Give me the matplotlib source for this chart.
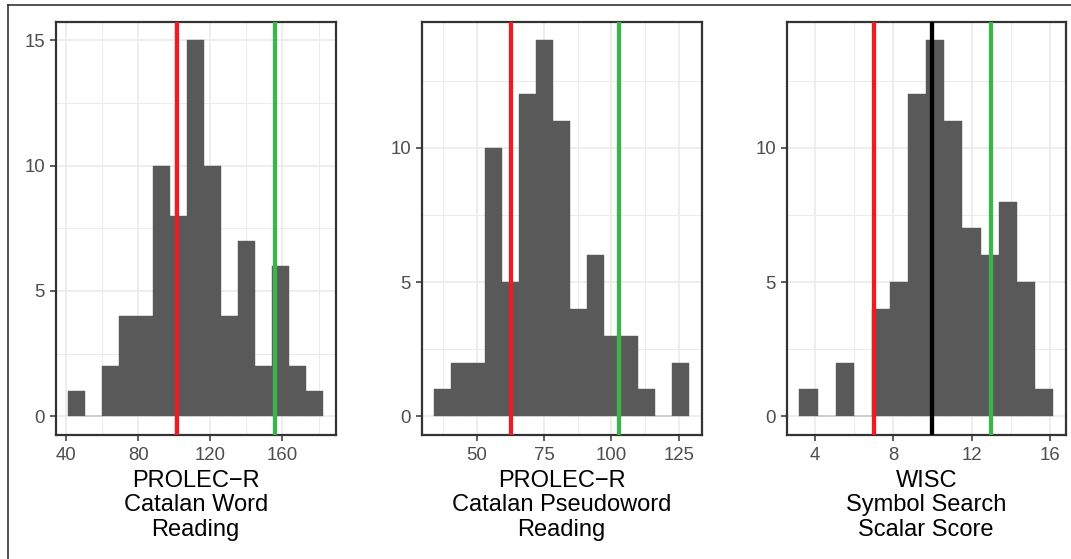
import numpy as np
import matplotlib
matplotlib.use("Agg")
import matplotlib.pyplot as plt
from matplotlib.lines import Line2D

plt.rcParams['font.family'] = ['Liberation Sans', 'DejaVu Sans']

# histogram bins (edges + counts per bin)
word_edges = [41.3, 50.71, 60.12, 69.53, 78.94, 88.35, 97.76, 107.17, 116.58,
              125.99, 135.4, 144.81, 154.22, 163.63, 173.04, 182.45]
word_counts = [1, 0, 2, 4, 4, 10, 8, 15, 10, 4, 7, 2, 6, 2, 1]
word_lines = [101.5, 156.0]

pseudo_edges = [34.2, 40.51, 46.82, 53.13, 59.44, 65.75, 72.06, 78.37, 84.68,
                90.99, 97.3, 103.61, 109.92, 116.23, 122.54, 128.85]
pseudo_counts = [1, 2, 2, 10, 5, 12, 14, 11, 4, 6, 3, 3, 1, 0, 2]
pseudo_lines = [62.6, 102.8]

wisc_edges = [3.19, 4.12, 5.04, 5.97, 6.90, 7.83, 8.75, 9.68, 10.61, 11.53,
              12.46, 13.39, 14.31, 15.24, 16.17]
wisc_counts = [1, 0, 2, 0, 4, 5, 12, 14, 11, 7, 6, 8, 5, 1]
wisc_lines = [7.0, 10.0, 13.0]

labels = ["PROLEC\u2212R\nCatalan Word\nReading",
          "PROLEC\u2212R\nCatalan Pseudoword\nReading",
          "WISC\nSymbol Search\nScalar Score"]

xticks = [[40, 80, 120, 160], [50, 75, 100, 125], [4, 8, 12, 16]]
xminor = [[60, 100, 140, 180], [37.5, 62.5, 87.5, 112.5], [6, 10, 14]]
yticks = [[0, 5, 10, 15], [0, 5, 10], [0, 5, 10]]
yminor = [[2.5, 7.5, 12.5], [2.5, 7.5, 12.5], [2.5, 7.5, 12.5]]

RED = '#EC1C24'
GREEN = '#3CB44A'

W, H = 1071, 559
fig = plt.figure(figsize=(W / 100, H / 100), dpi=100)

lefts = [55.7, 421.7, 786.7]
widths = [280, 280, 279]
top_px, bot_px = 21.7, 435

data = [(word_edges, word_counts, word_lines, [RED, GREEN]),
        (pseudo_edges, pseudo_counts, pseudo_lines, [RED, GREEN]),
        (wisc_edges, wisc_counts, wisc_lines, [RED, 'black', GREEN])]

for i, (edges, counts, vlines, cols) in enumerate(data):
    ax = fig.add_axes([lefts[i] / W, 1 - bot_px / H, widths[i] / W, (bot_px - top_px) / H])
    e = np.array(edges)
    ax.bar(e[:-1], counts, width=np.diff(e), align='edge', color='#595959',
           edgecolor='#595959', linewidth=0.3, zorder=2)
    for v, c in zip(vlines, cols):
        ax.axvline(v, color=c, lw=3.1, zorder=3)

    # ggplot style 5% expansion
    span = e[-1] - e[0]
    ax.set_xlim(e[0] - 0.05 * span, e[-1] + 0.05 * span)
    ymax = max(counts)
    ax.set_ylim(-0.05 * ymax, ymax * 1.05)

    ax.set_xticks(xticks[i])
    ax.set_xticks(xminor[i], minor=True)
    ax.set_yticks(yticks[i])
    ax.set_yticks(yminor[i], minor=True)
    ax.grid(which='major', color='#EBEBEB', lw=1.2, zorder=0)
    ax.grid(which='minor', color='#EBEBEB', lw=0.7, zorder=0)
    ax.set_axisbelow(True)
    ax.tick_params(which='minor', length=0)
    ax.tick_params(which='major', length=4.2, width=1.1, color='#333333',
                   labelcolor='#4D4D4D', labelsize=13.4)
    ax.tick_params(axis='x', pad=4.5)
    ax.tick_params(axis='y', pad=3.5)
    for s in ax.spines.values():
        s.set_color('#333333')
        s.set_linewidth(1.6)
    ax.set_xlabel(labels[i], fontsize=17, color='black', linespacing=1.15, labelpad=4)

# outer frame (only top and left visible in the crop)
fig.add_artist(Line2D([8.3 / W, 8.3 / W], [0, 1 - 5 / H], color='#333333', lw=1.2,
                      transform=fig.transFigure))
fig.add_artist(Line2D([8.3 / W, 1], [1 - 5 / H, 1 - 5 / H], color='#333333', lw=1.2,
                      transform=fig.transFigure))

fig.savefig("out.png", dpi=100)
